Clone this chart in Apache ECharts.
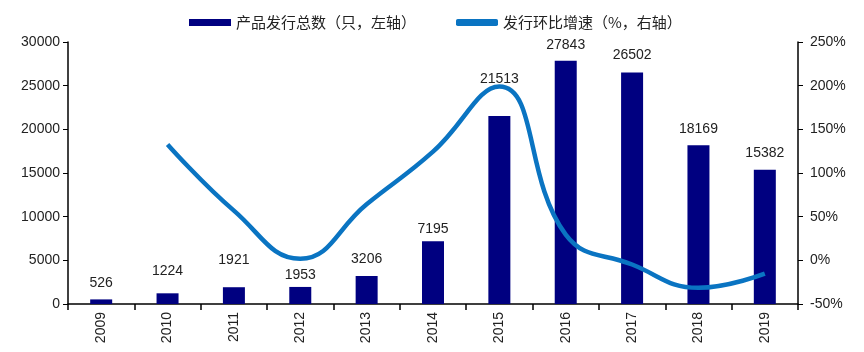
<!DOCTYPE html>
<html>
<head>
<meta charset="utf-8">
<script src="https://cdn.jsdelivr.net/npm/echarts@6/dist/echarts.min.js"></script>
<style>
  html, body { margin: 0; padding: 0; background: #fff; }
  #main { width: 864px; height: 352px; }
</style>
</head>
<body>
<div id="main"></div>
<script>
// 年份
var years = ['2009', '2010', '2011', '2012', '2013', '2014', '2015', '2016', '2017', '2018', '2019']
// 产品发行总数（只）
var issueCount = [526, 1224, 1921, 1953, 3206, 7195, 21513, 27843, 26502, 18169, 15382]
// 发行环比增速（%）
var growthRate = [null, 132.7, 56.9, 1.7, 64.2, 124.4, 199.0, 29.4, -4.8, -31.4, -15.3]

// 原图里的数据标签是手动挪过的，逐个给距离
var labelGap = [9, 15, 20, 5, 10, 5, 30, 9, 10, 9, 10]

var chart = echarts.init(document.getElementById('main'), null, { renderer: 'canvas' })

var axisFont = { fontFamily: 'Liberation Sans, Arial, sans-serif', fontSize: 14, color: '#222' }

var barData = issueCount.map(function (v, i) {
  return { value: v, label: { distance: labelGap[i] } }
})

var option = {
  animation: false,
  legend: {
    top: 10,
    left: 184,
    itemGap: 40,
    itemWidth: 42,
    itemHeight: 7,
    textStyle: { fontFamily: 'Noto Sans CJK SC', fontSize: 15, color: '#222' },
    data: [
      { name: '产品发行总数（只，左轴）', icon: 'rect' },
      { name: '发行环比增速（%，右轴）', icon: 'roundRect' }
    ]
  },
  grid: { left: 68, right: 66, top: 42, bottom: 48 },
  xAxis: {
    type: 'category',
    data: years,
    axisLine: { lineStyle: { color: '#000', width: 1.5 } },
    axisTick: { show: true, length: 6, lineStyle: { color: '#000', width: 1.5 } },
    axisLabel: Object.assign({ rotate: 90, margin: 8 }, axisFont)
  },
  yAxis: [
    {
      type: 'value',
      min: 0,
      max: 30000,
      interval: 5000,
      splitLine: { show: false },
      axisLine: { show: true, lineStyle: { color: '#000', width: 1.5 } },
      axisTick: { show: true, length: 5, lineStyle: { color: '#000' } },
      axisLabel: Object.assign({ margin: 8, formatter: function (v) { return String(v) } }, axisFont)
    },
    {
      type: 'value',
      min: -50,
      max: 250,
      interval: 50,
      splitLine: { show: false },
      axisLine: { show: true, lineStyle: { color: '#000', width: 1.5 } },
      axisTick: { show: true, length: 5, lineStyle: { color: '#000' } },
      axisLabel: Object.assign({ margin: 12, formatter: '{value}%' }, axisFont)
    }
  ],
  series: [
    {
      name: '产品发行总数（只，左轴）',
      type: 'bar',
      yAxisIndex: 0,
      barWidth: 22,
      itemStyle: { color: '#000080' },
      label: {
        show: true,
        position: 'top',
        fontFamily: 'Liberation Sans, Arial, sans-serif',
        fontSize: 14,
        color: '#222'
      },
      data: barData
    },
    {
      name: '发行环比增速（%，右轴）',
      type: 'line',
      yAxisIndex: 1,
      smooth: 0.45,
      symbol: 'none',
      connectNulls: false,
      lineStyle: { color: '#0A74C2', width: 4.5 },
      itemStyle: { color: '#0A74C2' },
      data: growthRate
    }
  ]
}

chart.setOption(option)
</script>
</body>
</html>
